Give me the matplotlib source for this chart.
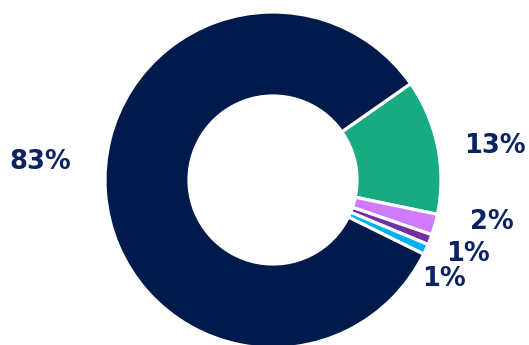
import numpy as np
import matplotlib
matplotlib.use("Agg")
import matplotlib.pyplot as plt

# Share of total, in drawing order (clockwise from the top-right)
categories = ["Green", "Violet", "Purple", "Sky", "Navy"]
values = [13, 2, 1, 1, 83]
labels = ["13%", "2%", "1%", "1%", "83%"]
colors = ["#17ab84", "#d07bfe", "#7030a0", "#00b0f0", "#001a4b"]

# Label placement: angle tweak (deg) and radius relative to the outer edge
label_shift = [-2.9, 4.5, 0.0, -5.7, -8.8]
label_radius = [1.337, 1.327, 1.242, 1.176, 1.39]

W, H = 529, 345
fig = plt.figure(figsize=(W / 100, H / 100), dpi=100)
cx, cy, R = 273, 180, 168
ax = fig.add_axes([(cx - R) / W, (H - cy - R) / H, 2 * R / W, 2 * R / H])

start = 35
wedges, _ = ax.pie(values, colors=colors, startangle=start, counterclock=False,
                   radius=1, wedgeprops=dict(width=0.5, edgecolor="white", linewidth=2.3))
ax.set_xlim(-1, 1)
ax.set_ylim(-1, 1)
ax.set_aspect("equal")
ax.axis("off")

total = sum(values)
acc = 0
for v, lab, sh, rr in zip(values, labels, label_shift, label_radius):
    mid = start - (acc + v / 2) / total * 360 + sh
    acc += v
    t = np.deg2rad(mid)
    ax.text(rr * np.cos(t), rr * np.sin(t), lab, ha="center", va="center",
            fontsize=18.5, fontweight="bold", color="#0b2263", family="DejaVu Sans")

fig.savefig("out.png", dpi=100)
